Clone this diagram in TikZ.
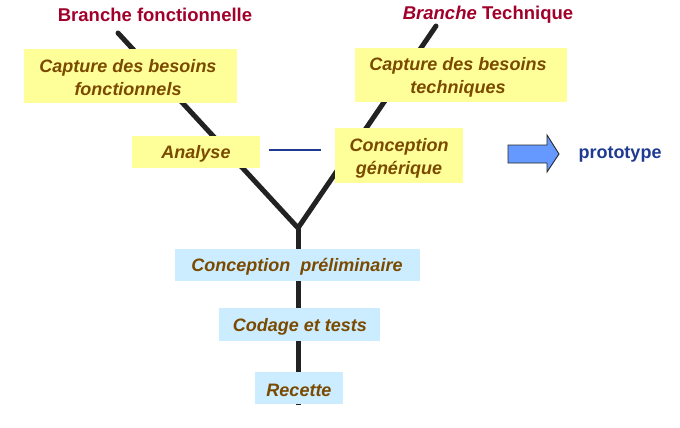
\documentclass[tikz,border=0pt]{standalone}
\usepackage{fontspec}
\setmainfont{Liberation Sans}
\definecolor{ybox}{HTML}{FFFF99}
\definecolor{bbox}{HTML}{CCECFF}
\definecolor{brn}{HTML}{7A4A00}
\definecolor{ttl}{HTML}{A0002A}
\definecolor{dblue}{HTML}{1F3A93}
\definecolor{arr}{HTML}{6699FF}
\definecolor{trunk}{HTML}{222222}
\begin{document}
\begin{tikzpicture}[x=1pt,y=-1pt,
  boxtxt/.style={font=\fontsize{18}{23}\selectfont\bfseries\itshape, text=brn, align=center, inner sep=0pt, yshift=-2pt},
  ttltxt/.style={font=\fontsize{18.5}{22}\selectfont\bfseries, text=ttl, yshift=-1pt},
  branch/.style={line width=5pt, draw=trunk}]
\useasboundingbox (0,0) rectangle (680,428);
% tree
\coordinate (tl) at (118,33);
\coordinate (tr) at (436,26);
\coordinate (j) at (298,228);
\coordinate (b) at (298,405);
\draw[branch, line cap=round] (tl) -- (j) -- (tr);
\draw[branch] (j) -- (b);
% titles
\node[ttltxt] (t1) at (155,14) {Branche fonctionnelle};
\node[ttltxt] (t2) at (488,14) {\itshape Branche\upshape{} Technique};
% yellow boxes
\fill[ybox] (24,49) rectangle (237,103);
\node[boxtxt] (cbf) at (128,76) {Capture des besoins\\fonctionnels};
\fill[ybox] (355,48) rectangle (567,102);
\node[boxtxt] (cbt) at (458,75) {Capture des besoins\\techniques};
\fill[ybox] (132,136) rectangle (260,168);
\node[boxtxt] (an) at (196,152) {Analyse};
\fill[ybox] (335,128) rectangle (463,183);
\node[boxtxt] (cg) at (399,156) {Conception\\générique};
% blue boxes
\fill[bbox] (175,249) rectangle (420,281);
\node[boxtxt] (cp) at (297,265) {Conception~~préliminaire};
\fill[bbox] (219,308) rectangle (380,341);
\node[boxtxt] (ct) at (300,325) {Codage et tests};
\fill[bbox] (255,372) rectangle (343,404);
\node[boxtxt] (rc) at (299,388) {Recette};
% link
\coordinate (l1) at (269,150);
\coordinate (l2) at (321,150);
\draw[dblue, line width=1.2pt] (l1) -- (l2);
% arrow
\draw[fill=arr, draw=black!85, line width=0.9pt, line join=miter]
  (508,145) -- (547,145) -- (547,135) -- (559,154) -- (547,172) -- (547,163) -- (508,163) -- cycle;
\node[font=\fontsize{18}{22}\selectfont\bfseries, text=dblue] (pt) at (620,154) {prototype};
\end{tikzpicture}
\end{document}
